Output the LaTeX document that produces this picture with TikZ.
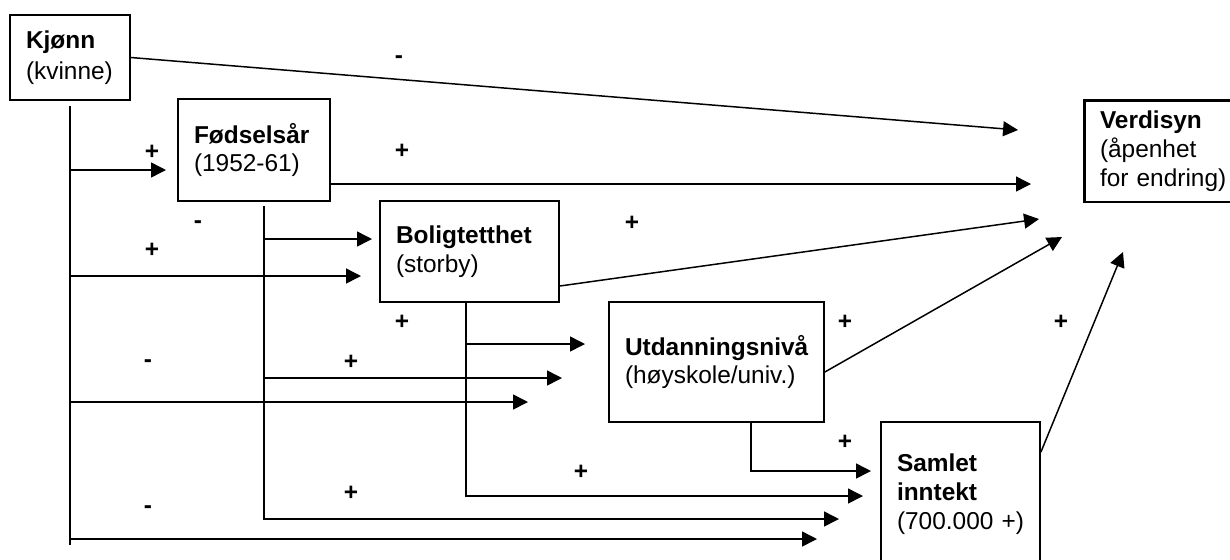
\documentclass[tikz,border=0pt]{standalone}
\usepackage{fontspec}
\setmainfont{Liberation Sans}
\usepackage{tikz}
\usetikzlibrary{arrows.meta}

\tikzset{
  box/.style={draw,line width=1pt,align=left,inner xsep=0.32cm,inner ysep=0pt,font=\fontsize{13.9}{16.4}\selectfont},
  arr/.style={-{Triangle[length=8.5pt,width=8.5pt]},line width=0.85pt},
  sign/.style={inner sep=0pt,font=\fontsize{13.9}{16.4}\selectfont\bfseries}
}

\begin{document}
\begin{tikzpicture}[x=0.02cm,y=-0.02cm]
		\useasboundingbox (0,0) rectangle (1230,559);
		\node[box,minimum height=1.7cm,text width=1.76cm] (kjonn) at (70,57.5) {\textbf{Kjønn}\\[1.5pt](kvinne)};
		\node[box,minimum height=2.04cm,text width=2.4cm] (fodsel) at (254,150) {\textbf{Fødselsår}\\(1952-61)};
		\node[box,minimum height=2.02cm,text width=2.94cm] (bolig) at (469.5,251.5) {\textbf{Boligtetthet}\\(storby)};
		\node[box,minimum height=2.4cm,text width=3.66cm] (utd) at (716.5,362) {\textbf{Utdanningsnivå}\\(høyskole/univ.)};
		\node[box,minimum height=2.88cm,text width=2.54cm] (samlet) at (960.5,494) {\textbf{Samlet}\\\textbf{inntekt}\\(700.000~+)};
		\node[box,line width=1.7pt,minimum height=2.04cm,text width=2.76cm] (verdisyn) at (1169,151) {\textbf{Verdisyn}\\(åpenhet\\for~endring)};
		% arrow tips in front of the boxes
		\coordinate (vk) at (1018,130);
		\coordinate (vf) at (1031,184);
		\coordinate (vb) at (1039,219);
		\coordinate (vu) at (1062,237);
		\coordinate (vs) at (1123,252);
		\coordinate (kf) at (166,170);
		\coordinate (kb) at (361,276);
		\coordinate (ku) at (528,402);
		\coordinate (ks) at (817,539);
		\coordinate (fb) at (372,239);
		\coordinate (fu) at (562,378);
		\coordinate (fs) at (839,519);
		\coordinate (bu) at (585,344);
		\coordinate (bs) at (863,496);
		\coordinate (us) at (871,471);
		% lines down from the boxes
		\coordinate (ksp) at ([yshift=-0.1cm]kjonn.south);
		\coordinate (kend) at (70,545);
		\coordinate (fsp) at ([xshift=0.2cm,yshift=-0.08cm]fodsel.south);
		\coordinate (bsp) at ([xshift=-0.07cm]bolig.south);
		\coordinate (usp) at ([xshift=0.69cm]utd.south);
		\draw [line width=0.85pt] (ksp)--(kend);
		\draw [arr] (ksp |- kf)--(kf);
		\draw [arr] (ksp |- kb)--(kb);
		\draw [arr] (ksp |- ku)--(ku);
		\draw [arr] (ksp |- ks)--(ks);
		\draw [arr] (fsp |- fb)--(fb);
		\draw [arr] (fsp |- fu)--(fu);
		\draw [arr] (fsp) |- (fs);
		\draw [arr] (bsp |- bu)--(bu);
		\draw [arr] (bsp) |- (bs);
		\draw [arr] (usp) |- (us);
		% to Verdisyn
		\draw [arr] (kjonn.east)--(vk);
		\draw [arr] (fodsel.east |- vf)--(vf);
		\draw [arr] ([yshift=-0.69cm]bolig.east)--(vb);
		\draw [arr] ([yshift=-0.2cm]utd.east)--(vu);
		\draw [arr] ([yshift=-0.62cm]samlet.north east)--(vs);
		% signs
		\node[sign] (skv) at (399,60) {-};
		\node[sign] (skf) at (152,152) {+};
		\node[sign] (sfv) at (402,151) {+};
		\node[sign] (sfb) at (198,225) {-};
		\node[sign] (skb) at (152,250) {+};
		\node[sign] (sbv) at (632,223) {+};
		\node[sign] (sbu) at (402,322) {+};
		\node[sign] (suv) at (845,322) {+};
		\node[sign] (ssv) at (1061,322) {+};
		\node[sign] (sku) at (148,364) {-};
		\node[sign] (sfu) at (351,362) {+};
		\node[sign] (sus) at (845,442) {+};
		\node[sign] (sbs) at (581,472) {+};
		\node[sign] (sfs) at (351,493) {+};
		\node[sign] (sks) at (148,510) {-};
    \end{tikzpicture}
\end{document}
